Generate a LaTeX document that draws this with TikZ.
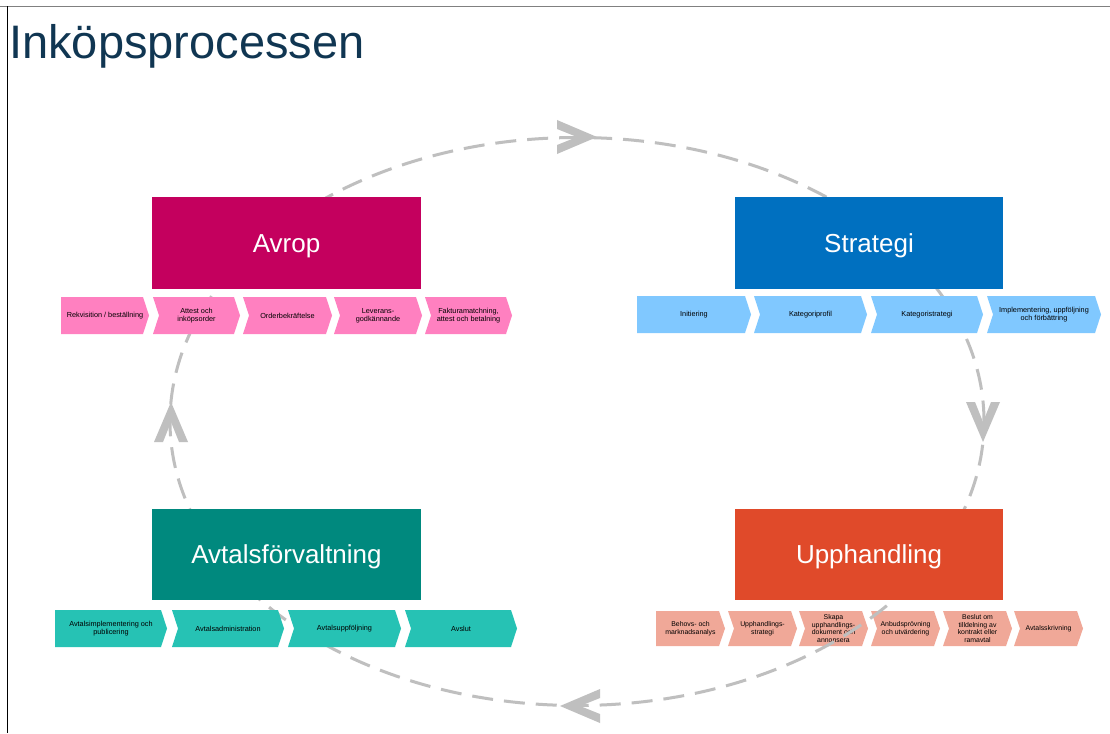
\documentclass[tikz,border=0pt]{standalone}
\usepackage{fontspec}
\setmainfont{Liberation Sans}
\definecolor{titlec}{RGB}{16,54,82}
\definecolor{avropc}{RGB}{196,0,94}
\definecolor{stratc}{RGB}{0,112,192}
\definecolor{avtalc}{RGB}{0,137,126}
\definecolor{upphc}{RGB}{224,74,42}
\definecolor{avropl}{RGB}{255,128,192}
\definecolor{stratl}{RGB}{128,200,255}
\definecolor{avtall}{RGB}{38,194,180}
\definecolor{upphl}{RGB}{240,168,152}
\definecolor{cyc}{RGB}{191,191,191}
\tikzset{
  bigbox/.style={draw=none, minimum width=269pt, minimum height=92pt, inner sep=0pt, text=white, text height=19pt, text depth=1pt, font=\fontsize{26}{30}\selectfont},
  chevtext/.style={align=center, inner sep=0pt, text=black, font=\fontsize{7.3}{8.2}\selectfont},
  chevsmall/.style={align=center, inner sep=0pt, text=black, font=\fontsize{6.9}{7.7}\selectfont},
  cycleline/.style={draw=cyc, line width=3pt, dash pattern=on 21pt off 11pt},
  cychead/.pic={\fill[cyc] (0,0) -- (-40,-17) -- (-40,-8) -- (-20,0) -- (-40,8) -- (-40,17) -- cycle;},
}
% #1 name, #2 x left, #3 x tip, #4 y top, #5 y bottom, #6 notch, #7 colour, #8 text style, #9 text
\newcommand{\chev}[9]{%
  \pgfmathsetmacro{\chevym}{(#4+#5)/2}%
  \pgfmathsetmacro{\chevxa}{#3-6}%
  \pgfmathsetmacro{\chevxn}{#2+#6}%
  \pgfmathsetmacro{\chevxc}{(#2+#3)/2}%
  \fill[#7] (#2,#4) -- (\chevxa,#4) -- (#3,\chevym) -- (\chevxa,#5) -- (#2,#5) -- (\chevxn,\chevym) -- cycle;
  \node[#8] (#1) at (\chevxc,\chevym) {#9};
}
\begin{document}
\begin{tikzpicture}[x=1pt,y=-1pt]
\useasboundingbox (0,0) rectangle (1110,733);
\fill[white] (0,0) rectangle (1110,733);
% frame
\draw[gray, line width=1.5pt] (0,6.5) -- (1110,6.5);
\draw[black, line width=1.5pt] (7.5,6.5) -- (7.5,733);
% title
\node[anchor=base west, inner sep=0pt, text=titlec, font=\fontsize{47}{56}\selectfont] (title) at (9,59) {Inköpsprocessen};
% Upphandling chevrons (under the cycle line)
\chev{up1}{656}{725}{611}{646}{0}{upphl}{chevsmall}{Behovs- och\\marknadsanalys}
\chev{up2}{728}{797}{611}{646}{6}{upphl}{chevsmall}{Upphandlings-\\strategi}
\chev{up3}{799}{868}{611}{646}{6}{upphl}{chevsmall}{Skapa\\upphandlings-\\dokument och\\annonsera}
\chev{up4}{871}{940}{611}{646}{6}{upphl}{chevsmall}{Anbudsprövning\\och utvärdering}
\chev{up5}{943}{1012}{611}{646}{6}{upphl}{chevsmall}{Beslut om\\tilldelning av\\kontrakt eller\\ramavtal}
\chev{up6}{1014}{1083}{611}{646}{6}{upphl}{chevsmall}{Avtalsskrivning}
% cycle
\draw[cycleline] (577,421.5) ellipse [x radius=407pt, y radius=284pt];
\pic[rotate=0] at (597,137) {cychead};
\pic[rotate=-90] at (983,442) {cychead};
\pic[rotate=180] at (560,706) {cychead};
\pic[rotate=90] at (171,402) {cychead};
% Avrop chevrons
\chev{av1}{61}{149}{297}{334}{0}{avropl}{chevtext}{Rekvisition / beställning}
\chev{av2}{153}{240}{297}{334}{6}{avropl}{chevtext}{Attest och\\inköpsorder}
\chev{av3}{243}{332}{297}{334}{6}{avropl}{chevtext}{Orderbekräftelse}
\chev{av4}{334}{422}{297}{334}{6}{avropl}{chevtext}{Leverans-\\godkännande}
\chev{av5}{425}{512}{297}{334}{6}{avropl}{chevtext}{Fakturamatchning,\\attest och betalning}
% Strategi chevrons
\chev{st1}{637}{751}{296}{333}{0}{stratl}{chevtext}{Initiering}
\chev{st2}{754}{867}{296}{333}{6}{stratl}{chevtext}{Kategoriprofil}
\chev{st3}{871}{983}{296}{333}{6}{stratl}{chevtext}{Kategoristrategi}
\chev{st4}{987}{1101}{296}{333}{6}{stratl}{chevtext}{Implementering, uppföljning\\och förbättring}
% Avtal chevrons
\chev{at1}{55}{167}{610}{647}{0}{avtall}{chevtext}{Avtalsimplementering och\\publicering}
\chev{at2}{172}{284}{610}{647}{6}{avtall}{chevtext}{Avtalsadministration}
\chev{at3}{288}{401}{610}{647}{6}{avtall}{chevtext}{Avtalsuppföljning}
\chev{at4}{405}{517}{610}{647}{6}{avtall}{chevtext}{Avslut}
% main boxes
\node[bigbox, fill=avropc] (avrop) at (286.5,243) {Avrop};
\node[bigbox, fill=stratc, minimum width=268pt] (strategi) at (869,243) {Strategi};
\node[bigbox, fill=avtalc, minimum height=91pt] (avtal) at (286.5,554.5) {Avtalsförvaltning};
\node[bigbox, fill=upphc, minimum width=268pt, minimum height=91pt] (upph) at (869,554.5) {Upphandling};
\end{tikzpicture}
\end{document}
